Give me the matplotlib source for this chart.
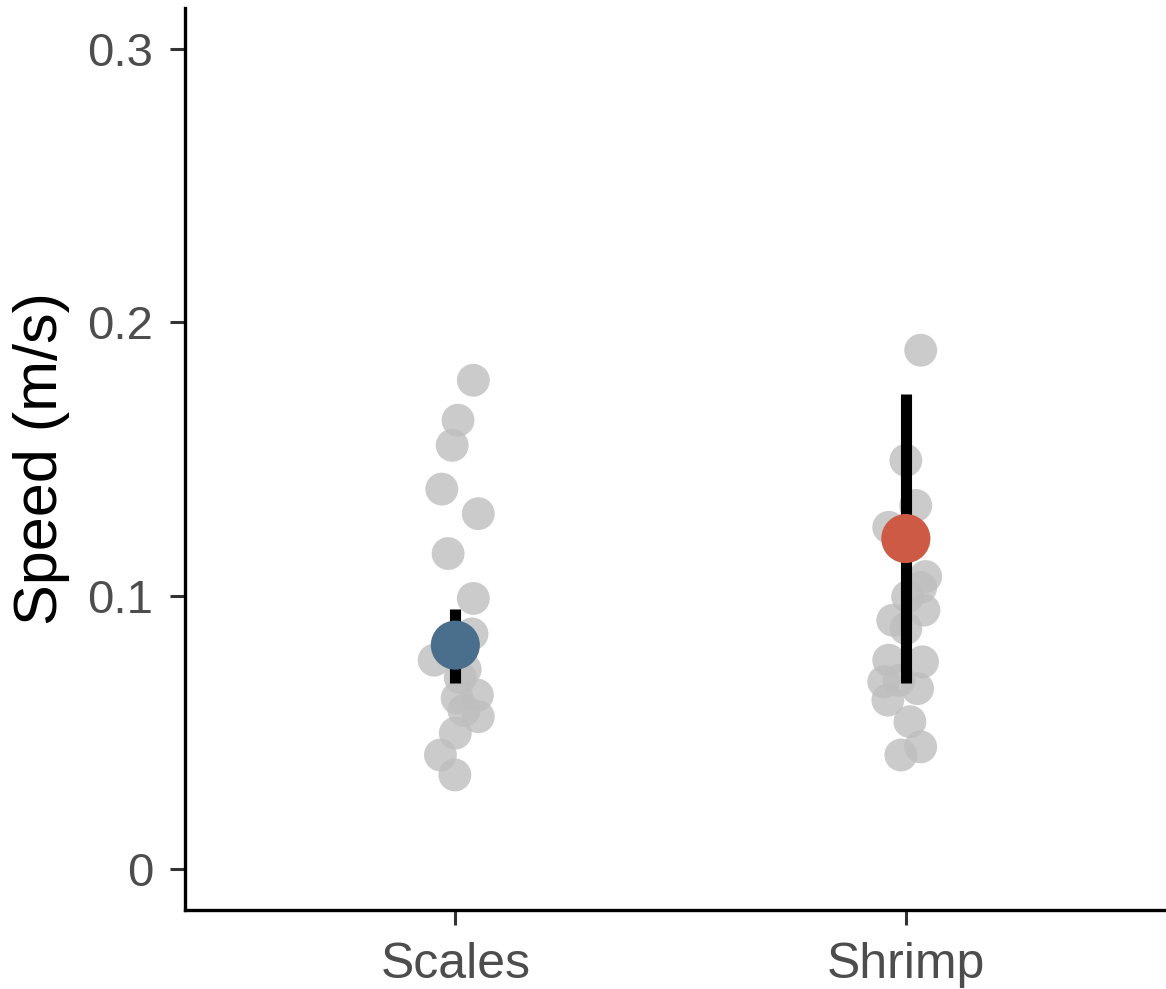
import matplotlib
matplotlib.use("Agg")
import matplotlib.pyplot as plt
import numpy as np

plt.rcParams['font.family'] = ['Liberation Sans', 'DejaVu Sans']

categories = ["Scales", "Shrimp"]

scales_speed = [0.1788, 0.1642, 0.155, 0.139, 0.130, 0.1154, 0.099, 0.086, 0.0764,
                0.073, 0.070, 0.0636, 0.0625, 0.058, 0.0557, 0.0497, 0.0417, 0.0344]
scales_jitter = [0.04, 0.006, -0.007, -0.030, 0.051, -0.016, 0.040, 0.037, -0.047,
                 0.022, 0.011, 0.049, 0.004, 0.019, 0.051, 0.000, -0.033, -0.001]

shrimp_speed = [0.1898, 0.1495, 0.133, 0.125, 0.107, 0.103, 0.0996, 0.0947, 0.091,
                0.088, 0.0764, 0.0758, 0.0685, 0.069, 0.066, 0.0618, 0.0539, 0.0447, 0.0417]
shrimp_jitter = [0.033, 0.000, 0.022, -0.038, 0.044, 0.033, 0.004, 0.040, -0.029,
                 0.000, -0.038, 0.037, -0.049, -0.015, 0.026, -0.040, 0.009, 0.033, -0.011]

means = [0.0819, 0.1209]
err_low = [0.0679, 0.0681]
err_high = [0.0953, 0.1737]
mean_colors = ["#4a6f8c", "#cd5a44"]

fig = plt.figure(figsize=(11.66, 9.89), dpi=100)
ax = fig.add_axes([185/1166, 1-910/989, 1-185/1166, (910-8)/989])

xpos = np.arange(1, len(categories) + 1)
for i, (vals, jit) in enumerate([(scales_speed, scales_jitter), (shrimp_speed, shrimp_jitter)]):
    ax.scatter(xpos[i] + np.array(jit), vals, s=560, color="#bebebe", alpha=0.8,
               edgecolors="none", zorder=2)

for i in range(len(categories)):
    ax.plot([xpos[i], xpos[i]], [err_low[i], err_high[i]], color="black", lw=8,
            solid_capstyle="butt", zorder=3)
    ax.scatter([xpos[i]], [means[i]], s=1250, color=mean_colors[i], edgecolors="none", zorder=4)

ax.set_xlim(0.4, 1 + (1166-453)/452)
ax.set_ylim(-0.015, 0.315)
ax.set_xticks(xpos)
ax.set_xticklabels(categories)
ax.set_yticks([0, 0.1, 0.2, 0.3])
ax.set_yticklabels(["0", "0.1", "0.2", "0.3"])
ax.tick_params(axis="both", labelcolor="#4d4d4d", color="#333333",
               length=11, width=2.2)
ax.tick_params(axis="y", labelsize=34, pad=12)
ax.tick_params(axis="x", labelsize=36, pad=12)
ax.set_ylabel("Speed (m/s)", fontsize=44, color="black", labelpad=12)

for side in ["top", "right"]:
    ax.spines[side].set_visible(False)
for side in ["left", "bottom"]:
    ax.spines[side].set_linewidth(2.4)
    ax.spines[side].set_color("black")

fig.savefig("out.png", dpi=100)
